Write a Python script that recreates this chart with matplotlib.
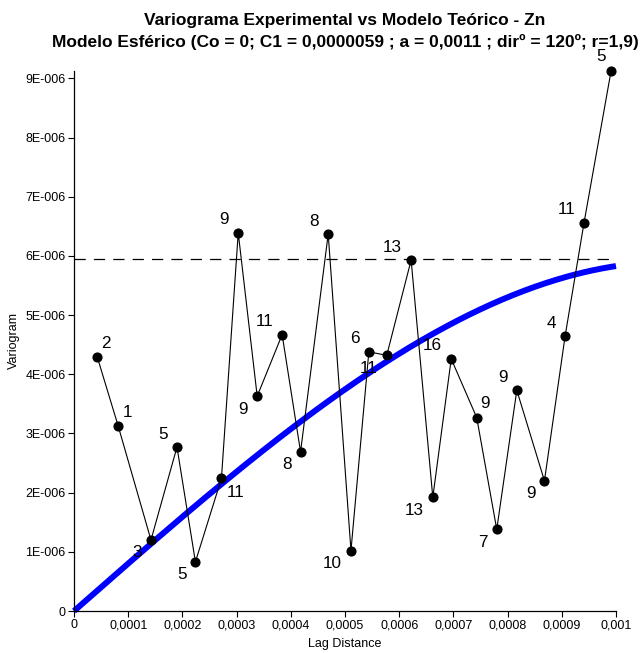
import numpy as np
import matplotlib
matplotlib.use("Agg")
import matplotlib.pyplot as plt
from matplotlib.ticker import FixedLocator, FixedFormatter

plt.rcParams["font.family"] = ["Liberation Sans", "DejaVu Sans"]

# variograma experimental (lag, gama, nº de pares)
lag = [0.0000430, 0.0000817, 0.000142, 0.000190, 0.000224, 0.000272,
       0.000303, 0.000338, 0.000384, 0.000418, 0.000469, 0.000511,
       0.000544, 0.000577, 0.000622, 0.000662, 0.000696, 0.000743,
       0.000780, 0.000817, 0.000868, 0.000906, 0.000941, 0.000991]
gama = [4.29e-6, 3.12e-6, 1.20e-6, 2.77e-6, 0.83e-6, 2.24e-6,
        6.39e-6, 3.63e-6, 4.67e-6, 2.69e-6, 6.37e-6, 1.02e-6,
        4.38e-6, 4.32e-6, 5.93e-6, 1.92e-6, 4.26e-6, 3.27e-6,
        1.38e-6, 3.73e-6, 2.20e-6, 4.64e-6, 6.56e-6, 9.13e-6]
pares = [2, 1, 3, 5, 5, 11, 9, 9, 11, 8, 8, 10,
         6, 11, 13, 13, 16, 9, 7, 9, 9, 4, 11, 5]
posicao = ["ur", "ur", "dl", "ul", "dl", "dr", "ul", "dl", "ul", "dl", "ul", "dl",
           "ul", "dl", "ul", "dl", "ul", "ur", "dl", "ul", "dl", "ul", "ul", "u"]

# modelo esférico
C0 = 0.0
C1 = 0.0000059
a = 0.0011
x_max = 0.001

x_ticks = [0, 0.0001, 0.0002, 0.0003, 0.0004, 0.0005, 0.0006, 0.0007, 0.0008, 0.0009, 0.001]
x_labels = ["0", "0,0001", "0,0002", "0,0003", "0,0004", "0,0005", "0,0006",
            "0,0007", "0,0008", "0,0009", "0,001"]
y_ticks = [0, 1e-6, 2e-6, 3e-6, 4e-6, 5e-6, 6e-6, 7e-6, 8e-6, 9e-6]
y_labels = ["0", "1E-006", "2E-006", "3E-006", "4E-006", "5E-006",
            "6E-006", "7E-006", "8E-006", "9E-006"]

OFFSETS = {
    "ur": (4, 14, "left"),
    "ul": (-9, 13, "right"),
    "dl": (-9, -13, "right"),
    "dr": (5, -14, "left"),
    "u": (-5, 14, "right"),
}


def esferico(h):
    h = np.asarray(h)
    r = np.clip(h / a, 0, 1)
    return C0 + C1 * (1.5 * r - 0.5 * r ** 3)


fig = plt.figure(figsize=(6.43, 6.53), dpi=100)
ax = fig.add_axes([0.1151, 0.0643, 0.8429, 0.8274])

h = np.linspace(0, x_max, 300)
ax.axhline(C0 + C1 * 1.007, color="black", lw=0.9, linestyle=(0, (9, 6.5)), zorder=1)
ax.plot(h, esferico(h), color="#0000ff", lw=4.3, zorder=2, clip_on=False,
        solid_capstyle="butt")
ax.plot(lag, gama, color="black", lw=0.8, marker="o", markersize=6.3, zorder=3,
        clip_on=False)

for x, y, n, p in zip(lag, gama, pares, posicao):
    dx, dy, ha = OFFSETS[p]
    ax.annotate(str(n), (x, y), xytext=(dx, dy), textcoords="offset pixels",
                ha=ha, va="center", fontsize=12.3, zorder=4, annotation_clip=False)

ax.set_xlim(0, x_max)
ax.set_ylim(0, max(gama))
ax.xaxis.set_major_locator(FixedLocator(x_ticks))
ax.xaxis.set_major_formatter(FixedFormatter(x_labels))
ax.yaxis.set_major_locator(FixedLocator(y_ticks))
ax.yaxis.set_major_formatter(FixedFormatter(y_labels))
ax.tick_params(labelsize=9, length=4, width=0.8, direction="out", pad=2)

for lado in ["top", "right"]:
    ax.spines[lado].set_visible(False)
for lado in ["left", "bottom"]:
    ax.spines[lado].set_linewidth(0.9)

ax.set_xlabel("Lag Distance", fontsize=9, labelpad=5)
ax.set_ylabel("Variogram", fontsize=9, labelpad=4)

x_centro = 0.1151 + 0.8429 / 2
fig.text(x_centro, 1 - 20 / 653, "Variograma Experimental vs Modelo Teórico - Zn",
         ha="center", va="center", fontsize=12.5, fontweight="bold")
fig.text(x_centro, 1 - 42 / 653,
         "Modelo Esférico (Co = 0; C1 = 0,0000059 ; a = 0,0011 ; dirº = 120º; r=1,9)",
         ha="center", va="center", fontsize=12.5, fontweight="bold")

fig.savefig("out.png", dpi=100)
